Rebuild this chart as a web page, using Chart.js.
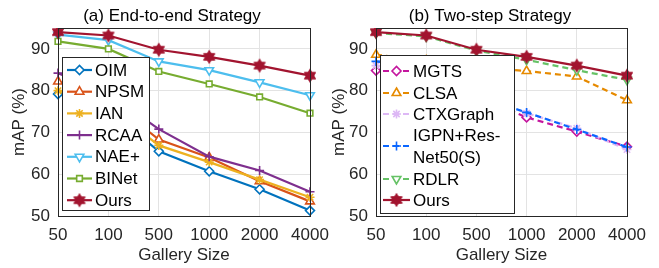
<!DOCTYPE html>
<html><head><meta charset="utf-8">
<script src="https://cdn.jsdelivr.net/npm/chart.js@4.4.1/dist/chart.umd.min.js"></script>
<style>
html,body{margin:0;padding:0;background:#fff;width:659px;height:268px;overflow:hidden}
#ca{position:absolute;left:0;top:0}
#cb{position:absolute;left:330px;top:0}
</style></head><body>
<canvas id="ca" width="344" height="268"></canvas>
<canvas id="cb" width="329" height="268"></canvas>
<script>
// ---------- data ----------
const categories = ['50', '100', '500', '1000', '2000', '4000'];
const yTicks = [50, 60, 70, 80, 90];
const titleA = '(a) End-to-end Strategy';
const titleB = '(b) Two-step Strategy';
const xTitle = 'Gallery Size';
const yTitle = 'mAP (%)';

// (a) End-to-end
const oim   = [79.2, 75.5, 65.5, 60.7, 56.4, 51.3];
const npsm  = [82.2, 77.9, 68.3, 64.0, 58.3, 53.5];
const ian   = [80.0, 76.3, 66.9, 62.9, 58.7, 54.5];
const rcaa  = [84.2, 79.3, 70.8, 64.2, 60.9, 55.8];
const naePlus = [93.4, 92.1, 87.0, 84.9, 82.0, 78.9];
const binet = [91.8, 90.0, 84.6, 81.6, 78.5, 74.6];
const oursA = [94.0, 93.2, 89.8, 88.1, 86.0, 83.6];

// (b) Two-step
const mgts     = [84.8, 83.0, 78.6, 73.6, 70.2, 66.6];
const clsa     = [88.6, 87.2, 85.6, 84.7, 83.4, 77.7];
const ctxGraph = [86.0, 84.1, 79.2, 74.6, 71.0, 65.9];
const igpn     = [87.0, 85.3, 78.6, 74.8, 70.7, 66.5];
const rdlr     = [93.8, 93.0, 89.6, 87.4, 84.9, 82.6];
const oursB    = [94.0, 93.2, 89.8, 88.1, 86.0, 83.6];

// ---------- styling ----------
const FONT = '"Liberation Sans", Arial, Helvetica, sans-serif';
const FS = 17;
const TXT = '#262626';
const GRID = '#e3e3e3';

function hexagram(color, r) {
  const s = Math.ceil(2 * r + 3);
  const c = document.createElement('canvas');
  c.width = c.height = s;
  const g = c.getContext('2d');
  const cx = s / 2, cy = s / 2;
  g.fillStyle = color; g.strokeStyle = color; g.lineWidth = 1;
  [-90, 90].forEach(off => {
    g.beginPath();
    for (let k = 0; k < 3; k++) {
      const a = (off + k * 120) * Math.PI / 180;
      const px = cx + r * Math.cos(a), py = cy + r * Math.sin(a);
      k ? g.lineTo(px, py) : g.moveTo(px, py);
    }
    g.closePath(); g.fill(); g.stroke();
  });
  return c;
}
const hexA = hexagram('#A2142F', 6.5);

function ds(label, data, color, style, extra) {
  return Object.assign({
    label, data,
    borderColor: color, backgroundColor: color,
    borderWidth: 2.2,
    pointStyle: style, pointRadius: 4.5, pointHoverRadius: 4.5,
    pointBorderWidth: 1.6, pointBorderColor: color, pointBackgroundColor: '#fff',
    tension: 0, fill: false
  }, extra || {});
}

function makePlugin(opt) {
  return {
    id: 'deco',
    afterDatasetsDraw(chart) {
      const ctx = chart.ctx, a = chart.chartArea;
      ctx.save();
      // plot box
      ctx.strokeStyle = TXT; ctx.lineWidth = 1; ctx.setLineDash([]);
      ctx.strokeRect(Math.round(a.left) + 0.5, Math.round(a.top) + 0.5,
        Math.round(a.right - a.left), Math.round(a.bottom - a.top));
      // legend
      const L = opt.legend;
      ctx.fillStyle = '#fff';
      ctx.fillRect(L.x, L.y, L.w, L.h);
      ctx.strokeRect(L.x + 0.5, L.y + 0.5, L.w, L.h);
      ctx.font = FS + 'px ' + FONT;
      ctx.textBaseline = 'middle'; ctx.textAlign = 'left';
      chart.data.datasets.forEach((d, i) => {
        const row = L.rows[i];
        ctx.strokeStyle = d.borderColor; ctx.lineWidth = d.borderWidth;
        ctx.setLineDash(d.borderDash || []);
        ctx.beginPath(); ctx.moveTo(L.sx0, row.y); ctx.lineTo(L.sx1, row.y); ctx.stroke();
        ctx.setLineDash([]);
        ctx.fillStyle = d.pointBackgroundColor; ctx.strokeStyle = d.pointBorderColor;
        ctx.lineWidth = d.pointBorderWidth;
        Chart.helpers.drawPoint(ctx, {
          pointStyle: d.pointStyle, rotation: d.pointRotation || 0,
          radius: d.pointRadius, borderWidth: d.pointBorderWidth
        }, (L.sx0 + L.sx1) / 2, row.y);
        ctx.fillStyle = '#000';
        row.text.forEach((t, k) => ctx.fillText(t, L.tx, row.ty[k]));
      });
      // title
      ctx.fillStyle = '#000';
      ctx.textAlign = 'center'; ctx.textBaseline = 'alphabetic';
      ctx.fillText(opt.title, opt.titleX, 20.5);
      ctx.restore();
    }
  };
}

function scales(yWidth, yTitlePad) {
  return {
    x: {
      type: 'category', offset: false,
      grid: { color: GRID, drawTicks: false, lineWidth: 1 },
      border: { display: false },
      ticks: { color: TXT, font: { family: FONT, size: FS }, padding: 9, maxRotation: 0, autoSkip: false },
      title: { display: true, text: xTitle, color: TXT, font: { family: FONT, size: FS }, padding: { top: 0, bottom: 2 } },
      afterFit(s) { s.height = 52; }
    },
    y: {
      min: 50, max: 95,
      afterBuildTicks(s) { s.ticks = yTicks.map(v => ({ value: v })); },
      grid: { color: GRID, drawTicks: false, lineWidth: 1 },
      border: { display: false },
      ticks: { color: TXT, font: { family: FONT, size: FS }, padding: 8 },
      title: { display: true, text: yTitle, color: TXT, font: { family: FONT, size: FS }, padding: { top: yTitlePad, bottom: 0 } },
      afterFit(s) { s.width = yWidth; }
    }
  };
}

function rowsEven(n, y0, step) {
  const r = [];
  for (let i = 0; i < n; i++) r.push({ y: y0 + i * step });
  return r;
}

// ---------- chart (a) ----------
const labelsA = ['OIM', 'NPSM', 'IAN', 'RCAA', 'NAE+', 'BINet', 'Ours'];
const rowsA = rowsEven(7, 70, 21.7).map((r, i) => ({ y: r.y, text: [labelsA[i]], ty: [r.y + 1] }));
const dsA = [
  ds('OIM', oim, '#0072BD', 'rectRot'),
  ds('NPSM', npsm, '#D95319', 'triangle', { pointRadius: 5 }),
  ds('IAN', ian, '#EDB120', 'star'),
  ds('RCAA', rcaa, '#7E2F8E', 'cross'),
  ds('NAE+', naePlus, '#4DBEEE', 'triangle', { pointRotation: 180, pointRadius: 5 }),
  ds('BINet', binet, '#77AC30', 'rect', { pointRadius: 4 }),
  ds('Ours', oursA, '#A2142F', hexA)
];
dsA.forEach((d, i) => d.order = -i);
new Chart(document.getElementById('ca'), {
  type: 'line',
  data: { labels: categories, datasets: dsA },
  options: {
    responsive: false, animation: false, devicePixelRatio: 1,
    layout: { padding: { top: 28, right: 34, left: 0, bottom: 0 } },
    plugins: { legend: { display: false }, tooltip: { enabled: false }, title: { display: false } },
    scales: scales(58, 9)
  },
  plugins: [makePlugin({
    title: titleA, titleX: 172,
    legend: { x: 62, y: 57, w: 87, h: 153, sx0: 67, sx1: 92, tx: 95, rows: rowsA }
  })]
});

// ---------- chart (b) ----------
const rowsB = [
  { y: 71, text: ['MGTS'], ty: [72] },
  { y: 93, text: ['CLSA'], ty: [94] },
  { y: 114, text: ['CTXGraph'], ty: [115] },
  { y: 146, text: ['IGPN+Res-', 'Net50(S)'], ty: [136, 158] },
  { y: 179, text: ['RDLR'], ty: [180] },
  { y: 200, text: ['Ours'], ty: [201] }
];
const DASH = [6, 4];
const dsB = [
  ds('MGTS', mgts, '#C4169E', 'rectRot', { borderDash: DASH }),
  ds('CLSA', clsa, '#E68A00', 'triangle', { borderDash: DASH, pointRadius: 5 }),
  ds('CTXGraph', ctxGraph, '#DDB8F5', 'star', { borderDash: DASH }),
  ds('IGPN+ResNet50(S)', igpn, '#0A66FF', 'cross', { borderDash: DASH }),
  ds('RDLR', rdlr, '#66C266', 'triangle', { borderDash: DASH, pointRotation: 180, pointRadius: 5 }),
  ds('Ours', oursB, '#A2142F', hexA)
];
dsB.forEach((d, i) => d.order = -i);
new Chart(document.getElementById('cb'), {
  type: 'line',
  data: { labels: categories, datasets: dsB },
  options: {
    responsive: false, animation: false, devicePixelRatio: 1,
    layout: { padding: { top: 28, right: 32, left: 0, bottom: 0 } },
    plugins: { legend: { display: false }, tooltip: { enabled: false }, title: { display: false } },
    scales: scales(46, -1)
  },
  plugins: [makePlugin({
    title: titleB, titleX: 160,
    legend: { x: 50, y: 55, w: 134, h: 158, sx0: 53, sx1: 80, tx: 83, rows: rowsB }
  })]
});
</script>
</body></html>
